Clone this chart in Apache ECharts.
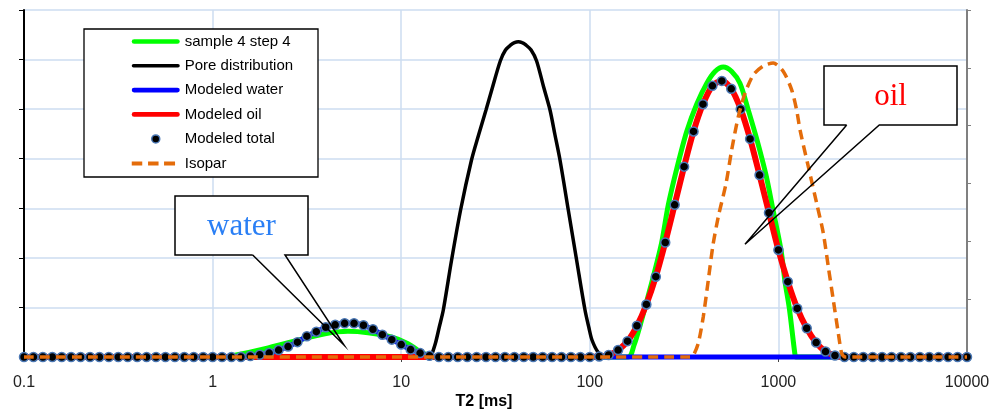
<!DOCTYPE html>
<html><head><meta charset="utf-8">
<script src="https://cdn.jsdelivr.net/npm/echarts@6/dist/echarts.min.js"></script>
<style>html,body{margin:0;padding:0;background:#fff}#c{width:993px;height:411px}</style>
</head><body><div id="c"></div>
<script>
// ---- data ----
const xTickLabels = ['0.1', '1', '10', '100', '1000', '10000'];
const xAxisTitle = 'T2 [ms]';
const names = ['sample 4 step 4', 'Pore distribution', 'Modeled water', 'Modeled oil', 'Modeled total', 'Isopar'];
const calloutWater = 'water';
const calloutOil = 'oil';

// common T2 grid of the modeled curves (20 points per decade)
const t2Grid = [
  0.1, 0.1122, 0.1259, 0.1413, 0.1585, 0.1778, 0.1995, 0.2239, 0.2512, 0.2818,
  0.3162, 0.3548, 0.3981, 0.4467, 0.5012, 0.5623, 0.631, 0.7079, 0.7943, 0.8913,
  1, 1.122, 1.259, 1.413, 1.585, 1.778, 1.995, 2.239, 2.512, 2.818,
  3.162, 3.548, 3.981, 4.467, 5.012, 5.623, 6.31, 7.079, 7.943, 8.913,
  10, 11.22, 12.59, 14.13, 15.85, 17.78, 19.95, 22.39, 25.12, 28.18,
  31.62, 35.48, 39.81, 44.67, 50.12, 56.23, 63.1, 70.79, 79.43, 89.13,
  100, 112.2, 125.9, 141.3, 158.5, 177.8, 199.5, 223.9, 251.2, 281.8,
  316.2, 354.8, 398.1, 446.7, 501.2, 562.3, 631, 707.9, 794.3, 891.3,
  1000, 1122, 1259, 1413, 1585, 1778, 1995, 2239, 2512, 2818,
  3162, 3548, 3981, 4467, 5012, 5623, 6310, 7079, 7943, 8913,
  10000
];
const modeledWater = [
  0, 0, 0, 0, 0, 0, 0, 0, 0, 0,
  0, 0, 0, 0, 0, 0, 0, 0, 0, 0,
  0, 0, 0, 0, 0.02, 0.045, 0.08, 0.14, 0.21, 0.30,
  0.42, 0.51, 0.60, 0.65, 0.68, 0.68, 0.64, 0.56, 0.45, 0.35,
  0.25, 0.15, 0.08, 0.025, 0, 0, 0, 0, 0, 0,
  0, 0, 0, 0, 0, 0, 0, 0, 0, 0,
  0, 0, 0, 0, 0, 0, 0, 0, 0, 0,
  0, 0, 0, 0, 0, 0, 0, 0, 0, 0,
  0, 0, 0, 0, 0, 0, 0, 0, 0, 0,
  0, 0, 0, 0, 0, 0, 0, 0, 0, 0,
  0
];
const modeledOil = [
  0, 0, 0, 0, 0, 0, 0, 0, 0, 0,
  0, 0, 0, 0, 0, 0, 0, 0, 0, 0,
  0, 0, 0, 0, 0, 0, 0, 0, 0, 0,
  0, 0, 0, 0, 0, 0, 0, 0, 0, 0,
  0, 0, 0, 0, 0, 0, 0, 0, 0, 0,
  0, 0, 0, 0, 0, 0, 0, 0, 0, 0,
  0, 0.01, 0.04, 0.14, 0.32, 0.63, 1.06, 1.62, 2.31, 3.07,
  3.84, 4.55, 5.10, 5.47, 5.57, 5.41, 5.00, 4.40, 3.67, 2.91,
  2.16, 1.52, 0.98, 0.58, 0.29, 0.11, 0.03, 0, 0, 0,
  0, 0, 0, 0, 0, 0, 0, 0, 0, 0,
  0
];
const modeledTotal = [
  0, 0, 0, 0, 0, 0, 0, 0, 0, 0,
  0, 0, 0, 0, 0, 0, 0, 0, 0, 0,
  0, 0, 0, 0, 0.02, 0.045, 0.08, 0.14, 0.21, 0.30,
  0.42, 0.51, 0.60, 0.65, 0.68, 0.68, 0.64, 0.56, 0.45, 0.35,
  0.25, 0.15, 0.08, 0.025, 0, 0, 0, 0, 0, 0,
  0, 0, 0, 0, 0, 0, 0, 0, 0, 0,
  0, 0.01, 0.04, 0.14, 0.32, 0.63, 1.06, 1.62, 2.31, 3.07,
  3.84, 4.55, 5.10, 5.47, 5.57, 5.41, 5.00, 4.40, 3.67, 2.91,
  2.16, 1.52, 0.98, 0.58, 0.29, 0.11, 0.03, 0, 0, 0,
  0, 0, 0, 0, 0, 0, 0, 0, 0, 0,
  0
];
// measured sample
const sampleT2 = [0.1, 1.163, 1.315, 1.896, 2.837, 3.945, 5.222, 6.668, 8.939, 10.87, 12.28, 13.87, 15.11,
  159.4, 171.6, 184.6, 198.6, 217.1, 240.5, 260.8, 290.9, 326.5, 368.8, 416.7, 461.1, 510.4, 565.5,
  625.8, 692.5, 767.2, 859.7, 936.3, 1032, 1084, 1142, 1225, 1239, 10000];
const sampleVal = [0, 0, 0.034, 0.17, 0.34, 0.47, 0.52, 0.49, 0.40, 0.27, 0.135, 0.034, 0,
  0, 0.24, 0.63, 1.07, 1.62, 2.31, 3.07, 3.84, 4.55, 5.10, 5.52, 5.76, 5.85, 5.76,
  5.52, 4.98, 4.40, 3.67, 2.97, 2.16, 1.52, 0.99, 0.04, 0, 0];
// pore size distribution
const poreT2 = [14.39, 15.2, 15.92, 16.72, 18.5, 20.65, 23.59, 25.72, 28.16, 30.41, 33.53, 35.73, 38.12, 39.87, 41.78,
  43.75, 45.78, 48.85, 52.23, 56.82, 61.52, 65.38, 69.5, 76.91, 85.11, 94.3, 99.0, 102.7, 110.5, 120.4];
const poreVal = [0, 0.282, 0.605, 0.948, 1.957, 2.965, 3.974, 4.479, 4.983, 5.427, 5.972, 6.194, 6.295, 6.343, 6.361,
  6.343, 6.295, 6.194, 5.972, 5.456, 4.983, 4.479, 3.974, 2.965, 1.957, 0.948, 0.585, 0.343, 0.101, 0];
// Isopar reference
const isoparT2 = [0.1, 339.9, 353.9, 376.1, 399.6, 424.9, 450, 480.1, 527.6, 565.5, 613, 665.2, 736.1,
  831.7, 939.7, 1062, 1176, 1250, 1302, 1435, 1596, 1730, 1839, 1955, 2078, 2166, 2255, 10000];
const isoparVal = [0, 0, 0.03, 0.28, 0.81, 1.55, 2.26, 2.83, 3.50, 4.18, 4.85, 5.32, 5.69,
  5.87, 5.93, 5.76, 5.39, 4.98, 4.58, 3.87, 3.10, 2.50, 1.82, 1.15, 0.48, 0.075, 0, 0];

// ---- chart ----
const pairs = (xs, ys) => xs.map((x, i) => [x, ys[i]]);
const chart = echarts.init(document.getElementById('c'), null, {renderer: 'canvas'});
const FONT = 'Liberation Sans';
const gridBlue = '#cddcf0';
const lineBase = {type: 'line', symbol: 'none', clip: false, smooth: 0.3, emphasis: {disabled: true}, silent: true};
// legend icon shapes (48 x 14 box)
const lineIcon = (t) => 'path://M0 0M48 14M' + (t / 2) + ' ' + (7 - t / 2) + 'h' + (48 - t) + 'a' + (t / 2) + ' ' + (t / 2) + ' 0 0 1 0 ' + t + 'h-' + (48 - t) + 'a' + (t / 2) + ' ' + (t / 2) + ' 0 0 1 0 -' + t + 'z';
const dashIcon = 'path://M0 0M48 14M0 5h10.5v4h-10.5zM16.3 5h10.5v4h-10.5zM32.3 5h11v4h-11z';
const dotIcon = 'path://M0 0M48 14M20 7a4 4 0 1 0 8 0a4 4 0 1 0 -8 0z';

const option = {
  animation: false,
  backgroundColor: '#fff',
  grid: {left: 24, right: 26, top: 10, bottom: 54, containLabel: false},
  xAxis: [{
    type: 'log', logBase: 10, min: 0.1, max: 10000, interval: 1,
    axisLine: {show: true, lineStyle: {color: '#000', width: 1}},
    axisTick: {show: true, inside: false, length: 5, lineStyle: {color: '#444', width: 1}},
    axisLabel: {show: true, margin: 18, color: '#222', fontFamily: FONT, fontSize: 16,
      formatter: (v) => { const r = xTickLabels.find(s => Math.abs(parseFloat(s) - v) / v < 1e-6); return r || ''; }},
    splitLine: {show: true, lineStyle: {color: gridBlue, width: 1.5}},
    minorTick: {show: false}, minorSplitLine: {show: false}
  }, {
    type: 'log', logBase: 10, min: 0.1, max: 10000, position: 'top',
    axisLine: {show: true, lineStyle: {color: '#000', width: 1}},
    axisTick: {show: false}, axisLabel: {show: false}, splitLine: {show: false}
  }],
  yAxis: [{
    type: 'value', min: 0, max: 7, interval: 1, position: 'left',
    axisLine: {show: true, lineStyle: {color: '#000', width: 2}},
    axisTick: {show: true, inside: false, length: 5, lineStyle: {color: '#000', width: 1}},
    axisLabel: {show: false},
    splitLine: {show: true, lineStyle: {color: gridBlue, width: 1.5}}
  }, {
    type: 'value', min: 0, max: 6, interval: 1, position: 'right',
    axisLine: {show: true, lineStyle: {color: '#808080', width: 2}},
    axisTick: {show: true, inside: false, length: 4, lineStyle: {color: '#808080', width: 1}},
    axisLabel: {show: false}, splitLine: {show: false}
  }],
  legend: {
    orient: 'vertical', left: 131, top: 34, padding: 0,
    itemWidth: 48, itemHeight: 14, itemGap: 9.3,
    textStyle: {fontFamily: FONT, fontSize: 15, color: '#000'},
    selectedMode: false,
    itemStyle: {borderWidth: 0},
    data: [
      {name: names[0], icon: lineIcon(4.7), itemStyle: {color: '#00ff00', borderWidth: 0}},
      {name: names[1], icon: lineIcon(3.5), itemStyle: {color: '#000000', borderWidth: 0}},
      {name: names[2], icon: lineIcon(4.7), itemStyle: {color: '#0000ff', borderWidth: 0}},
      {name: names[3], icon: lineIcon(4.7), itemStyle: {color: '#ff0000', borderWidth: 0}},
      {name: names[4], icon: dotIcon, itemStyle: {color: '#000000', borderColor: '#4a77b4', borderWidth: 1.5}},
      {name: names[5], icon: dashIcon, itemStyle: {color: '#e46c0a', borderWidth: 0}}
    ]
  },
  series: [
    Object.assign({}, lineBase, {name: names[0], z: 2, data: pairs(sampleT2, sampleVal),
      lineStyle: {color: '#00ff00', width: 5}, itemStyle: {color: '#00ff00'}}),
    Object.assign({}, lineBase, {name: names[1], z: 2, data: pairs(poreT2, poreVal), smooth: 0.3,
      lineStyle: {color: '#000000', width: 3.5}, itemStyle: {color: '#000000'}}),
    Object.assign({}, lineBase, {name: names[2], z: 2, data: pairs(t2Grid, modeledWater),
      lineStyle: {color: '#0000ff', width: 5}, itemStyle: {color: '#0000ff'}}),
    Object.assign({}, lineBase, {name: names[3], z: 2, data: pairs(t2Grid, modeledOil),
      lineStyle: {color: '#ff0000', width: 6}, itemStyle: {color: '#ff0000'}}),
    {type: 'scatter', name: names[4], z: 3, data: pairs(t2Grid, modeledTotal), clip: false, silent: true,
      symbol: 'circle', symbolSize: 9,
      itemStyle: {color: '#000000', borderColor: '#4a77b4', borderWidth: 1.5, opacity: 1},
      emphasis: {disabled: true}},
    Object.assign({}, lineBase, {name: names[5], z: 4, data: pairs(isoparT2, isoparVal), smooth: 0.25,
      lineStyle: {color: '#e46c0a', width: 3.5, type: [10, 6]}, itemStyle: {color: '#e46c0a'}})
  ],
  graphic: [
    {type: 'rect', z: 3, shape: {x: 84, y: 29, width: 234, height: 148},
      style: {fill: '#fff', stroke: '#000', lineWidth: 1.3}},
    {type: 'text', z: 5, x: 484, y: 401.5,
      style: {text: xAxisTitle, fontFamily: FONT, fontWeight: 'bold', fontSize: 16, fill: '#000',
        align: 'center', verticalAlign: 'middle'}},
    // water callout
    {type: 'rect', z: 20, shape: {x: 175, y: 196, width: 133, height: 59}, style: {fill: '#fff', stroke: null}},
    {type: 'polyline', z: 21, shape: {points: [[252.7, 255], [175, 255], [175, 196], [308, 196], [308, 255], [285, 255], [344, 345], [252.7, 255]]},
      style: {stroke: '#000', lineWidth: 1.5, fill: null}},
    {type: 'text', z: 22, x: 241.5, y: 226.5,
      style: {text: calloutWater, fontFamily: 'Liberation Serif', fontSize: 31, fill: '#2a7ff5', align: 'center', verticalAlign: 'middle'}},
    // oil callout
    {type: 'rect', z: 20, shape: {x: 824, y: 66, width: 133, height: 59}, style: {fill: '#fff', stroke: null}},
    {type: 'polyline', z: 21, shape: {points: [[846.7, 125], [824, 125], [824, 66], [957, 66], [957, 125], [879.3, 125], [745, 244.3], [846.7, 125]]},
      style: {stroke: '#000', lineWidth: 1.5, fill: null}},
    {type: 'text', z: 22, x: 890.5, y: 97,
      style: {text: calloutOil, fontFamily: 'Liberation Serif', fontSize: 31, fill: '#ff0000', align: 'center', verticalAlign: 'middle'}}
  ]
};
chart.setOption(option);
</script>
</body></html>
